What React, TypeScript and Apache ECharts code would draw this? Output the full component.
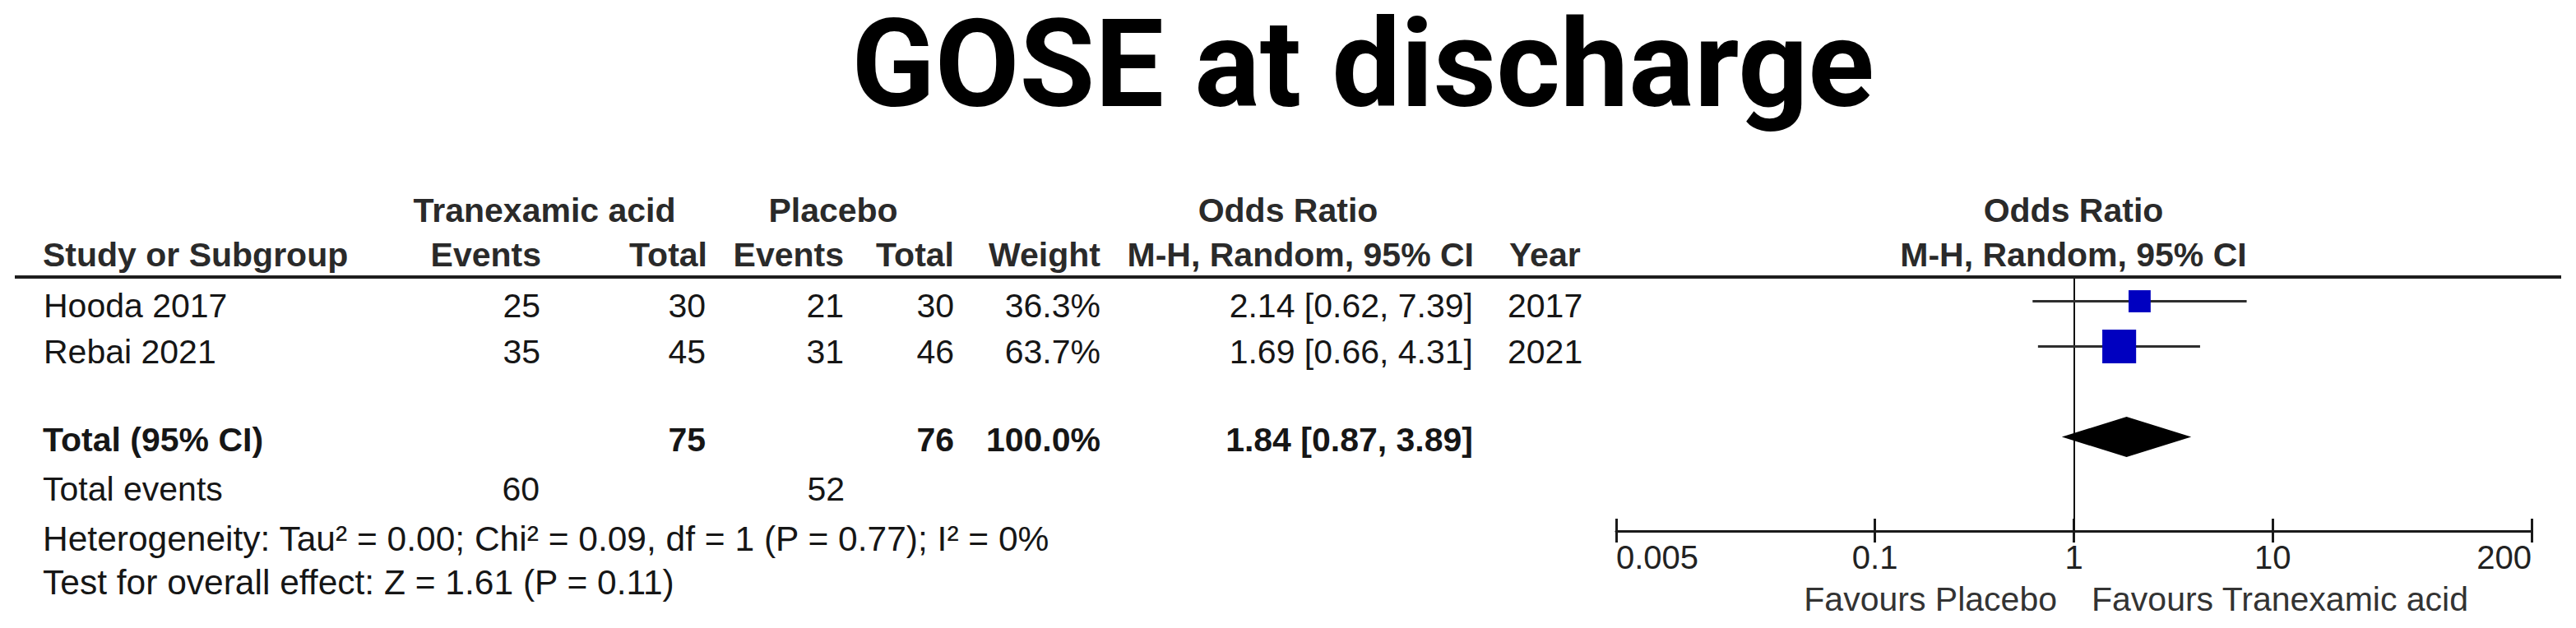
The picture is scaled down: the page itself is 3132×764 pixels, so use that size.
import React, { useEffect, useRef } from "react";
import * as echarts from "echarts";

// ---------------- data ----------------
const TITLE = "GOSE at discharge";
const GROUP_A = "Tranexamic acid";
const GROUP_B = "Placebo";
const STUDIES = ["Hooda 2017", "Rebai 2021"];
const TXA_EVENTS = [25, 35];
const TXA_TOTAL = [30, 45];
const PLA_EVENTS = [21, 31];
const PLA_TOTAL = [30, 46];
const WEIGHTS = [36.3, 63.7];
const ODDS = [2.14, 1.69];
const CI_LOW = [0.62, 0.66];
const CI_HIGH = [7.39, 4.31];
const YEARS = [2017, 2021];
const STUDY_ROWS = [0, 1];
const TOTAL_ROW = 3;
const TOTAL_TXA = 75;
const TOTAL_PLA = 76;
const TOTAL_WEIGHT = 100.0;
const POOLED_OR = 1.84;
const POOLED_LOW = 0.87;
const POOLED_HIGH = 3.89;
const EVENTS_TXA = 60;
const EVENTS_PLA = 52;
const HETEROGENEITY =
  "Heterogeneity: Tau\u00b2 = 0.00; Chi\u00b2 = 0.09, df = 1 (P = 0.77); I\u00b2 = 0%";
const OVERALL = "Test for overall effect: Z = 1.61 (P = 0.11)";
const AXIS_TICKS = [0.005, 0.1, 1, 10, 200];
const FAVOURS_LEFT = "Favours Placebo";
const FAVOURS_RIGHT = "Favours Tranexamic acid";

// ---------------- layout ----------------
const FONT = "'Liberation Sans', Arial, sans-serif";
const FS = 41;
const BODY = "#161616";
const HEAD = "#2a2a2a";
const GRID_LEFT = 1965;
const GRID_WIDTH = 1113;
const GRID_TOP = 339;
const GRID_HEIGHT = 307;
const ROW_PX = 55;

const ROW_Y = {
  head1: 256,
  head2: 310,
  studies: [372, 428],
  total: 535,
  events: 595,
  het: 655,
  test: 708,
};

const COL = {
  name: 52,
  txaEvents: 657,
  txaTotal: 858,
  plaEvents: 1026,
  plaTotal: 1160,
  weight: 1338,
  or: 1791,
  year: 1833,
};

function txt(
  text: string,
  x: number,
  y: number,
  align: string,
  bold = false,
  color = BODY,
  size = FS
) {
  return {
    type: "text",
    x,
    y,
    silent: true,
    style: {
      text,
      fill: color,
      fontFamily: FONT,
      fontSize: size,
      fontWeight: bold ? "bold" : "normal",
      align,
      verticalAlign: "middle",
      textAlign: align,
      textVerticalAlign: "middle",
    },
  };
}

const fmtOR = (o: number, l: number, h: number) =>
  `${o.toFixed(2)} [${l.toFixed(2)}, ${h.toFixed(2)}]`;

export default function App() {
  const ref = useRef<HTMLDivElement>(null);

  useEffect(() => {
    if (!ref.current) return;
    const chart = echarts.init(ref.current, undefined, { renderer: "svg" });

    const graphics: any[] = [];
    // title
    graphics.push({
      type: "text",
      x: 1657,
      y: 78,
      silent: true,
      style: {
        text: TITLE,
        fill: "#000",
        fontFamily: "Roboto, sans-serif",
        fontWeight: "bold",
        fontSize: 149,
        lineHeight: 150,
        align: "center",
        verticalAlign: "middle",
        textAlign: "center",
        textVerticalAlign: "middle",
      },
    });
    // header rule
    graphics.push({
      type: "line",
      silent: true,
      shape: { x1: 18, y1: 337, x2: 3114, y2: 337 },
      style: { stroke: "#1e1e1e", lineWidth: 4 },
    });
    // header row 1
    graphics.push(txt(GROUP_A, 662, ROW_Y.head1, "center", true, HEAD));
    graphics.push(txt(GROUP_B, 1013, ROW_Y.head1, "center", true, HEAD));
    graphics.push(txt("Odds Ratio", 1566, ROW_Y.head1, "center", true, HEAD));
    graphics.push(txt("Odds Ratio", 2521, ROW_Y.head1, "center", true, HEAD));
    // header row 2
    const h2 = ROW_Y.head2;
    graphics.push(txt("Study or Subgroup", COL.name, h2, "left", true, HEAD));
    graphics.push(txt("Events", COL.txaEvents + 1, h2, "right", true, HEAD));
    graphics.push(txt("Total", COL.txaTotal + 2, h2, "right", true, HEAD));
    graphics.push(txt("Events", COL.plaEvents, h2, "right", true, HEAD));
    graphics.push(txt("Total", COL.plaTotal, h2, "right", true, HEAD));
    graphics.push(txt("Weight", COL.weight, h2, "right", true, HEAD));
    graphics.push(txt("M-H, Random, 95% CI", COL.or + 1, h2, "right", true, HEAD));
    graphics.push(txt("Year", COL.year + 2, h2, "left", true, HEAD));
    graphics.push(txt("M-H, Random, 95% CI", 2521, h2, "center", true, HEAD));

    // study rows
    STUDIES.forEach((name, i) => {
      const y = ROW_Y.studies[i];
      graphics.push(txt(name, COL.name + 1, y, "left"));
      graphics.push(txt(String(TXA_EVENTS[i]), COL.txaEvents, y, "right"));
      graphics.push(txt(String(TXA_TOTAL[i]), COL.txaTotal, y, "right"));
      graphics.push(txt(String(PLA_EVENTS[i]), COL.plaEvents, y, "right"));
      graphics.push(txt(String(PLA_TOTAL[i]), COL.plaTotal, y, "right"));
      graphics.push(txt(`${WEIGHTS[i].toFixed(1)}%`, COL.weight, y, "right"));
      graphics.push(txt(fmtOR(ODDS[i], CI_LOW[i], CI_HIGH[i]), COL.or, y, "right"));
      graphics.push(txt(String(YEARS[i]), COL.year, y, "left"));
    });

    // total row
    const ty = ROW_Y.total;
    graphics.push(txt("Total (95% CI)", COL.name, ty, "left", true));
    graphics.push(txt(String(TOTAL_TXA), COL.txaTotal, ty, "right", true));
    graphics.push(txt(String(TOTAL_PLA), COL.plaTotal, ty, "right", true));
    graphics.push(txt(`${TOTAL_WEIGHT.toFixed(1)}%`, COL.weight, ty, "right", true));
    graphics.push(txt(fmtOR(POOLED_OR, POOLED_LOW, POOLED_HIGH), COL.or, ty, "right", true));
    // total events
    graphics.push(txt("Total events", COL.name, ROW_Y.events, "left"));
    graphics.push(txt(String(EVENTS_TXA), COL.txaEvents - 1, ROW_Y.events, "right"));
    graphics.push(txt(String(EVENTS_PLA), COL.plaEvents + 1, ROW_Y.events, "right"));
    // footers (slightly wider in the reference)
    graphics.push(txt(HETEROGENEITY, COL.name, ROW_Y.het, "left", false, BODY, 42.5));
    graphics.push(txt(OVERALL, COL.name, ROW_Y.test, "left", false, BODY, 42.5));
    // favours
    graphics.push(txt(FAVOURS_LEFT, 2501, 729, "right", false, "#333"));
    graphics.push(txt(FAVOURS_RIGHT, 2543, 729, "left", false, "#333"));

    const yMax = -0.5 + GRID_HEIGHT / ROW_PX;

    const option: any = {
      animation: false,
      backgroundColor: "#ffffff",
      grid: {
        left: GRID_LEFT,
        top: GRID_TOP,
        width: GRID_WIDTH,
        height: GRID_HEIGHT,
        containLabel: false,
      },
      xAxis: [
        {
          type: "log",
          logBase: 10,
          min: 0.005,
          max: 200,
          position: "bottom",
          axisLine: { show: true, onZero: false, lineStyle: { color: "#1a1a1a", width: 3 } },
          axisTick: {
            show: true,
            customValues: AXIS_TICKS,
            length: 14,
            inside: false,
            lineStyle: { color: "#1a1a1a", width: 3 },
          },
          axisLabel: {
            show: true,
            customValues: AXIS_TICKS,
            formatter: (v: number) => String(v),
            fontFamily: FONT,
            fontSize: 40,
            color: "#222",
            margin: 12,
            alignMinLabel: "left",
            alignMaxLabel: "right",
          },
          splitLine: { show: false },
          minorTick: { show: false },
        },
        {
          type: "log",
          logBase: 10,
          min: 0.005,
          max: 200,
          position: "top",
          offset: -GRID_HEIGHT,
          axisLine: { show: false, onZero: false },
          axisTick: {
            show: true,
            customValues: AXIS_TICKS,
            length: 15,
            inside: false,
            lineStyle: { color: "#1a1a1a", width: 3 },
          },
          axisLabel: { show: false },
          splitLine: { show: false },
        },
      ],
      yAxis: {
        type: "value",
        inverse: true,
        min: -0.5,
        max: yMax,
        show: false,
        splitLine: { show: false },
      },
      graphic: { elements: graphics },
      series: [
        {
          type: "custom",
          name: "ci",
          xAxisIndex: 0,
          yAxisIndex: 0,
          z: 2,
          silent: true,
          encode: { x: [0, 1], y: 2 },
          data: STUDY_ROWS.map((r, i) => [CI_LOW[i], CI_HIGH[i], r]),
          renderItem: (params: any, api: any) => {
            const p1 = api.coord([api.value(0), api.value(2)]);
            const p2 = api.coord([api.value(1), api.value(2)]);
            return {
              type: "line",
              shape: { x1: p1[0], y1: p1[1], x2: p2[0], y2: p2[1] },
              style: { stroke: "#2e2e2e", lineWidth: 3 },
            };
          },
        },
        {
          type: "scatter",
          name: "studies",
          xAxisIndex: 0,
          yAxisIndex: 0,
          z: 4,
          silent: true,
          symbol: "rect",
          symbolSize: (val: number[]) => 8 + val[2] * 0.52,
          itemStyle: { color: "#0000c0", opacity: 1 },
          data: STUDY_ROWS.map((r, i) => [ODDS[i], r, WEIGHTS[i]]),
          markLine: {
            silent: true,
            symbol: ["none", "none"],
            label: { show: false },
            lineStyle: { color: "#111", width: 2, type: "solid" },
            data: [{ xAxis: 1 }],
            z: 1,
          },
        },
        {
          type: "custom",
          name: "pooled",
          xAxisIndex: 0,
          yAxisIndex: 0,
          z: 5,
          silent: true,
          encode: { x: [0, 1, 2], y: 3 },
          data: [[POOLED_OR, POOLED_LOW, POOLED_HIGH, TOTAL_ROW]],
          renderItem: (params: any, api: any) => {
            const c = api.coord([api.value(0), api.value(3)]);
            const l = api.coord([api.value(1), api.value(3)]);
            const r = api.coord([api.value(2), api.value(3)]);
            const hh = 24.5;
            return {
              type: "polygon",
              shape: {
                points: [
                  [l[0], c[1]],
                  [c[0], c[1] - hh],
                  [r[0], c[1]],
                  [c[0], c[1] + hh],
                ],
              },
              style: { fill: "#000" },
            };
          },
        },
      ],
    };

    chart.setOption(option);
    return () => chart.dispose();
  }, []);

  return (
    <div
      ref={ref}
      style={{ position: "absolute", left: 0, top: 0, width: 3132, height: 764, background: "#fff" }}
    />
  );
}
